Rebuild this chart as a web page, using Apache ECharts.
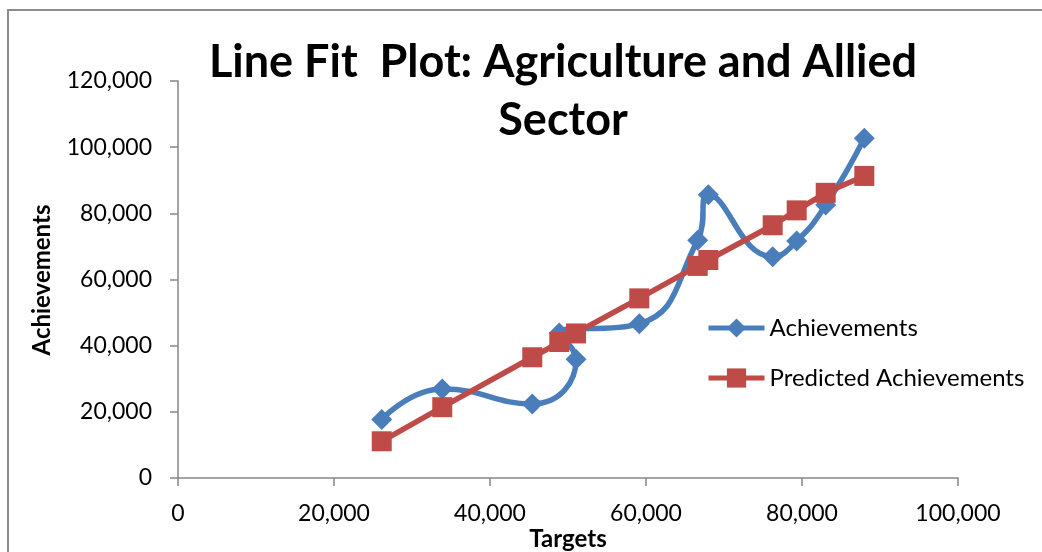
<!DOCTYPE html>
<html>
<head>
<meta charset="utf-8">
<script src="https://cdn.jsdelivr.net/npm/echarts@6/dist/echarts.min.js"></script>
<style>
  html, body { margin: 0; padding: 0; background: #ffffff; }
  #chart { width: 1042px; height: 552px; }
</style>
</head>
<body>
<div id="chart"></div>
<script>
// Targets (x) and the two y series, in source row order
const targets      = [26120, 33880, 45420, 51030, 48880, 59140, 66630, 67990, 76240, 79320, 83040, 87990];
const achievements = [17700, 26900, 22400, 35900, 43800, 46600, 71900, 85600, 66900, 71600, 82500, 102700];
const predicted    = [11100, 21400, 36500, 43700, 41100, 54300, 64100, 65900, 76400, 80900, 86200, 91300];

const titleLines = ['Line Fit  Plot: Agriculture and Allied', 'Sector'];
const xName = 'Targets';
const yName = 'Achievements';
const seriesNames = ['Achievements', 'Predicted Achievements'];

const FONT = 'Lato, "Open Sans", sans-serif';
const AXIS_GREY = '#868686';
const BLUE = '#4A7EBB';
const RED = '#BE4B48';

const fmt = v => v.toLocaleString('en-US');

const pairs = ys => targets.map((x, i) => [x, ys[i]]);

const chart = echarts.init(document.getElementById('chart'), null, { renderer: 'canvas' });

chart.setOption({
  backgroundColor: '#ffffff',
  animation: false,
  textStyle: { fontFamily: FONT },
  grid: { left: 178, top: 81, width: 780, height: 397, containLabel: false },
  xAxis: {
    type: 'value',
    min: 0, max: 100000, interval: 20000,
    axisLine: { show: true, lineStyle: { color: AXIS_GREY, width: 1.5 } },
    axisTick: { show: true, inside: false, length: 8, lineStyle: { color: AXIS_GREY, width: 1.5 } },
    splitLine: { show: false },
    axisLabel: { color: '#000', fontSize: 23, fontFamily: FONT, margin: 24, formatter: fmt }
  },
  yAxis: {
    type: 'value',
    min: 0, max: 120000, interval: 20000,
    axisLine: { show: true, lineStyle: { color: AXIS_GREY, width: 1.5 } },
    axisTick: { show: true, inside: false, length: 8, lineStyle: { color: AXIS_GREY, width: 1.5 } },
    splitLine: { show: false },
    axisLabel: { color: '#000', fontSize: 23, fontFamily: FONT, margin: 26, formatter: fmt }
  },
  legend: {
    orient: 'vertical',
    left: 706, top: 316, padding: 0,
    itemWidth: 56, itemHeight: 24, itemGap: 26,
    lineStyle: { width: 5 },
    textStyle: { color: '#000', fontSize: 24, fontFamily: FONT },
    data: seriesNames
  },
  series: [
    {
      name: seriesNames[0],
      type: 'line',
      data: pairs(achievements),
      smooth: 0.5,
      symbol: 'diamond',
      symbolSize: 21,
      lineStyle: { color: BLUE, width: 5.5 },
      itemStyle: { color: BLUE },
      z: 2
    },
    {
      name: seriesNames[1],
      type: 'line',
      data: pairs(predicted),
      symbol: 'rect',
      symbolSize: 20,
      lineStyle: { color: RED, width: 5.5 },
      itemStyle: { color: RED },
      z: 3
    }
  ],
  graphic: [
    {
      type: 'rect', silent: true, z: -1,
      shape: { x: 8, y: 10, width: 1200, height: 700 },
      style: { fill: 'none', stroke: '#8c8c8c', lineWidth: 2 }
    },
    {
      type: 'text', x: 563, y: 62,
      style: { text: titleLines[0], font: 'bold 45px ' + FONT, fill: '#000', textAlign: 'center', textVerticalAlign: 'middle' }
    },
    {
      type: 'text', x: 563, y: 120,
      style: { text: titleLines[1], font: 'bold 45px ' + FONT, fill: '#000', textAlign: 'center', textVerticalAlign: 'middle' }
    },
    {
      type: 'text', x: 568, y: 539,
      style: { text: xName, font: 'bold 24px ' + FONT, fill: '#000', textAlign: 'center', textVerticalAlign: 'middle' }
    },
    {
      type: 'text', x: 42, y: 280, rotation: Math.PI / 2,
      style: { text: yName, font: 'bold 24px ' + FONT, fill: '#000', textAlign: 'center', textVerticalAlign: 'middle' }
    }
  ]
});
</script>
</body>
</html>
